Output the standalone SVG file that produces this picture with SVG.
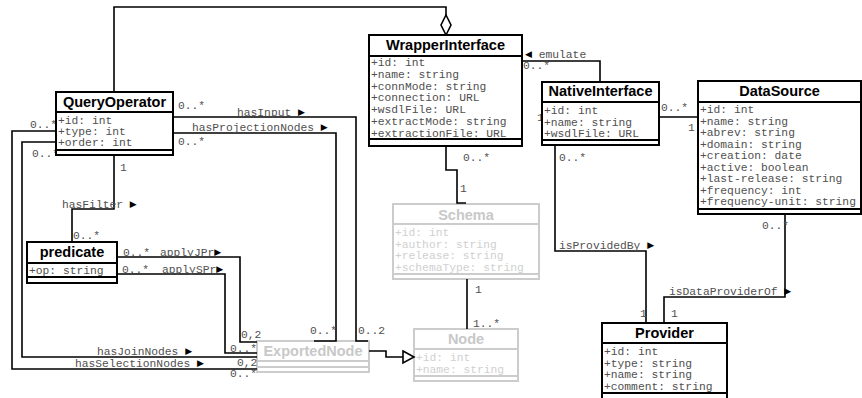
<svg xmlns="http://www.w3.org/2000/svg" width="862" height="398" viewBox="0 0 862 398">
  <style>
    .box { fill: #fff; stroke: #000; stroke-width: 2; }
    .sep { stroke: #000; stroke-width: 2; }
    .gbox { fill: #fff; stroke: #ccc; stroke-width: 2; }
    .gsep { stroke: #ccc; stroke-width: 2; }
    .title { font-family: "Liberation Sans", Arial, sans-serif; font-weight: bold; font-size: 14.5px; text-anchor: middle; fill: #000; }
    .gtitle { font-family: "Liberation Sans", Arial, sans-serif; font-weight: bold; font-size: 14.5px; text-anchor: middle; fill: #c8c8c8; }
    .attr { font-family: "Liberation Mono", "Courier New", monospace; font-size: 11.3px; fill: #505050; }
    .gattr { font-family: "Liberation Mono", "Courier New", monospace; font-size: 11.3px; fill: #d0d0d0; }
    .lbl { font-family: "Liberation Mono", "Courier New", monospace; font-size: 11.3px; fill: #505050; }
    .arr { font-family: "DejaVu Sans", sans-serif; font-size: 9px; fill: #000; baseline-shift: 1px; }
    .conn { fill: none; stroke: #000; stroke-width: 1.6; }
    .head { fill: #fff; stroke: #000; stroke-width: 1.6; }
  </style>

  <!-- grey classes (drawn first so connectors sit on top) -->
  <g id="Schema">
    <rect class="gbox" x="393" y="204" width="146" height="75"/>
    <line class="gsep" x1="393" y1="224" x2="539" y2="224"/>
    <line class="gsep" x1="393" y1="274" x2="539" y2="274"/>
    <text class="gtitle" x="466" y="220">Schema</text>
    <text class="gattr" x="395" y="236">+id: int</text>
    <text class="gattr" x="395" y="248">+author: string</text>
    <text class="gattr" x="395" y="259">+release: string</text>
    <text class="gattr" x="395" y="271">+schemaType: string</text>
  </g>

  <g id="Node">
    <rect class="gbox" x="414" y="329" width="104" height="52"/>
    <line class="gsep" x1="414" y1="349" x2="518" y2="349"/>
    <line class="gsep" x1="414" y1="376" x2="518" y2="376"/>
    <text class="gtitle" x="466" y="344">Node</text>
    <text class="gattr" x="416" y="361">+id: int</text>
    <text class="gattr" x="416" y="373">+name: string</text>
  </g>

  <g id="ExportedNode">
    <rect class="gbox" x="257" y="341" width="112" height="31"/>
    <line class="gsep" x1="257" y1="361" x2="369" y2="361"/>
    <line class="gsep" x1="257" y1="367" x2="369" y2="367"/>
    <text class="gtitle" x="313" y="356">ExportedNode</text>
  </g>

  <!-- associations -->
  <g id="connectors">
    <!-- QueryOperator aggregated by WrapperInterface -->
    <polyline class="conn" points="114,92 114,7 446,7 446,15"/>
    <polygon class="head" points="446,15 451,25 446,35 441,25"/>

    <!-- hasInput -->
    <polyline class="conn" points="173,117 356,117 356,341 368,341"/>
    <!-- hasProjectionNodes -->
    <polyline class="conn" points="173,133 336,133 336,341 314,341"/>
    <!-- hasFilter -->
    <polyline class="conn" points="114,155 114,209 72,209 72,242"/>
    <!-- hasSelectionNodes -->
    <polyline class="conn" points="56,131 12,131 12,369 257,369"/>
    <!-- hasJoinNodes -->
    <polyline class="conn" points="56,142 22,142 22,357 257,357"/>
    <!-- applyJPr -->
    <polyline class="conn" points="117,257 240,257 240,342 257,342"/>
    <!-- applySPr -->
    <polyline class="conn" points="117,274 225,274 225,353 257,353"/>

    <!-- ExportedNode generalises to Node -->
    <polyline class="conn" points="369,351 386,351 386,357 403,357"/>
    <polygon class="head" points="403,351 414,357 403,363"/>

    <!-- WrapperInterface to Schema -->
    <polyline class="conn" points="446,146 446,170 457,170 457,203 466,203"/>
    <!-- Schema to Node -->
    <polyline class="conn" points="467,279 467,329"/>
    <!-- emulate -->
    <polyline class="conn" points="522,61 600,61 600,82"/>
    <!-- NativeInterface to DataSource -->
    <polyline class="conn" points="659,117 698,117"/>
    <!-- isProvidedBy -->
    <polyline class="conn" points="555,145 555,251 646,251 646,323"/>
    <!-- isDataProviderOf -->
    <polyline class="conn" points="785,214 785,297 664,297 664,323"/>

    <!-- association names -->
    <text class="lbl" x="237" y="116">hasInput <tspan class="arr">▶</tspan></text>
    <text class="lbl" x="192" y="131">hasProjectionNodes <tspan class="arr">▶</tspan></text>
    <text class="lbl" x="62" y="208">hasFilter <tspan class="arr">▶</tspan></text>
    <text class="lbl" x="160" y="256">applyJPr<tspan class="arr">▶</tspan></text>
    <text class="lbl" x="162" y="273">applySPr<tspan class="arr">▶</tspan></text>
    <text class="lbl" x="97" y="355">hasJoinNodes <tspan class="arr">▶</tspan></text>
    <text class="lbl" x="75" y="367">hasSelectionNodes <tspan class="arr">▶</tspan></text>
    <text class="lbl" x="525" y="58"><tspan class="arr">◀</tspan> emulate</text>
    <text class="lbl" x="559" y="249">isProvidedBy <tspan class="arr">▶</tspan></text>
    <text class="lbl" x="669" y="295">isDataProviderOf <tspan class="arr">▶</tspan></text>

    <!-- multiplicities -->
    <text class="lbl" x="30" y="128">0..*</text>
    <text class="lbl" x="32" y="157">0..*</text>
    <text class="lbl" x="178" y="109">0..*</text>
    <text class="lbl" x="178" y="145">0..*</text>
    <text class="lbl" x="120" y="171">1</text>
    <text class="lbl" x="73" y="239">0..*</text>
    <text class="lbl" x="123" y="256">0..*</text>
    <text class="lbl" x="122" y="273">0..*</text>
    <text class="lbl" x="241" y="338">0,2</text>
    <text class="lbl" x="230" y="352">0..*</text>
    <text class="lbl" x="237" y="366">0,2</text>
    <text class="lbl" x="230" y="377">0..*</text>
    <text class="lbl" x="310" y="334">0..*</text>
    <text class="lbl" x="358" y="334">0..2</text>
    <text class="lbl" x="463" y="161">0..*</text>
    <text class="lbl" x="460" y="192">1</text>
    <text class="lbl" x="475" y="293">1</text>
    <text class="lbl" x="473" y="327">1..*</text>
    <text class="lbl" x="523" y="69">0..*</text>
    <text class="lbl" x="537" y="121">1</text>
    <text class="lbl" x="661" y="111">0..*</text>
    <text class="lbl" x="688" y="131">1</text>
    <text class="lbl" x="559" y="161">0..*</text>
    <text class="lbl" x="640" y="317">1</text>
    <text class="lbl" x="762" y="229">0..*</text>
    <text class="lbl" x="671" y="317">1</text>
  </g>

  <!-- black classes -->
  <g id="QueryOperator">
    <rect class="box" x="56" y="92" width="117" height="63"/>
    <line class="sep" x1="56" y1="112" x2="173" y2="112"/>
    <line class="sep" x1="56" y1="150" x2="173" y2="150"/>
    <text class="title" x="114.5" y="107">QueryOperator</text>
    <text class="attr" x="58" y="124">+id: int</text>
    <text class="attr" x="58" y="135">+type: int</text>
    <text class="attr" x="58" y="146">+order: int</text>
  </g>

  <g id="WrapperInterface">
    <rect class="box" x="369" y="35" width="153" height="111"/>
    <line class="sep" x1="369" y1="56" x2="522" y2="56"/>
    <line class="sep" x1="369" y1="139" x2="522" y2="139"/>
    <text class="title" x="445.5" y="50">WrapperInterface</text>
    <text class="attr" x="371" y="66">+id: int</text>
    <text class="attr" x="371" y="77.8">+name: string</text>
    <text class="attr" x="371" y="89.5">+connMode: string</text>
    <text class="attr" x="371" y="101.3">+connection: URL</text>
    <text class="attr" x="371" y="113">+wsdlFile: URL</text>
    <text class="attr" x="371" y="124.8">+extractMode: string</text>
    <text class="attr" x="371" y="136.5">+extractionFile: URL</text>
  </g>

  <g id="NativeInterface">
    <rect class="box" x="542" y="82" width="117" height="63"/>
    <line class="sep" x1="542" y1="102" x2="659" y2="102"/>
    <line class="sep" x1="542" y1="140" x2="659" y2="140"/>
    <text class="title" x="600.5" y="96">NativeInterface</text>
    <text class="attr" x="544" y="114">+id: int</text>
    <text class="attr" x="544" y="126">+name: string</text>
    <text class="attr" x="544" y="137">+wsdlFile: URL</text>
  </g>

  <g id="DataSource">
    <rect class="box" x="698" y="81" width="163" height="133"/>
    <line class="sep" x1="698" y1="102" x2="861" y2="102"/>
    <line class="sep" x1="698" y1="209" x2="861" y2="209"/>
    <text class="title" x="779.5" y="96">DataSource</text>
    <text class="attr" x="700" y="113">+id: int</text>
    <text class="attr" x="700" y="124.5">+name: string</text>
    <text class="attr" x="700" y="136">+abrev: string</text>
    <text class="attr" x="700" y="147.5">+domain: string</text>
    <text class="attr" x="700" y="159">+creation: date</text>
    <text class="attr" x="700" y="170.5">+active: boolean</text>
    <text class="attr" x="700" y="182">+last-release: string</text>
    <text class="attr" x="700" y="193.5">+frequency: int</text>
    <text class="attr" x="700" y="205">+frequency-unit: string</text>
  </g>

  <g id="predicate">
    <rect class="box" x="27" y="242" width="90" height="41"/>
    <line class="sep" x1="27" y1="263" x2="117" y2="263"/>
    <line class="sep" x1="27" y1="277" x2="117" y2="277"/>
    <text class="title" x="72" y="257">predicate</text>
    <text class="attr" x="29" y="274">+op: string</text>
  </g>

  <g id="Provider">
    <rect class="box" x="602" y="323" width="125" height="80"/>
    <line class="sep" x1="602" y1="343" x2="727" y2="343"/>
    <line class="sep" x1="602" y1="393" x2="727" y2="393"/>
    <text class="title" x="664.5" y="338">Provider</text>
    <text class="attr" x="604" y="355">+id: int</text>
    <text class="attr" x="604" y="367">+type: string</text>
    <text class="attr" x="604" y="378">+name: string</text>
    <text class="attr" x="604" y="390">+comment: string</text>
  </g>
</svg>
